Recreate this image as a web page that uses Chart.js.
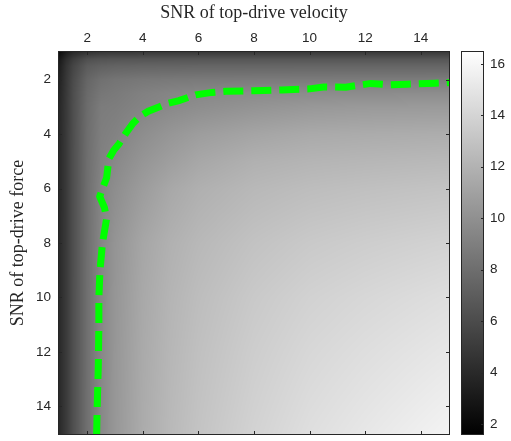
<!DOCTYPE html>
<html>
<head>
<meta charset="utf-8">
<script src="https://cdn.jsdelivr.net/npm/chart.js@4.4.0/dist/chart.umd.js"></script>
<style>
    html, body { margin: 0; padding: 0; background: #ffffff; }
    #wrap { width: 511px; height: 441px; }
</style>
</head>
<body>
<div id="wrap"><canvas id="snrChart" width="511" height="441"></canvas></div>
<script>
// Grid nodes of the SNR map (velocity = columns, force = rows)
const snrVelocity = [1, 1.25, 1.5, 2, 2.5, 3, 4, 5, 6, 8, 10, 12, 15];
const snrForce = [1, 1.25, 1.5, 2, 2.5, 3, 4, 5, 6, 8, 10, 12, 15];

// Map values, one row per force node (read from the grey levels)
const rowForce1 = [2.3, 3.3, 4.0, 4.6, 4.9, 4.95, 4.97, 4.98, 4.98, 4.99, 5.0, 5.0, 5.0];
const rowForce1_25 = [3.0, 4.2, 5.1, 6.2, 6.45, 6.52, 6.56, 6.58, 6.59, 6.6, 6.6, 6.6, 6.6];
const rowForce1_5 = [3.3, 4.6, 5.6, 6.9, 7.22, 7.35, 7.43, 7.45, 7.47, 7.48, 7.49, 7.49, 7.5];
const rowForce2 = [3.55, 4.8, 5.95, 7.5, 8.14, 8.38, 8.58, 8.66, 8.71, 8.75, 8.77, 8.79, 8.8];
const rowForce2_5 = [3.75, 4.9, 6.1, 7.75, 8.5, 8.7, 9.1, 9.35, 9.5, 9.7, 9.74, 9.77, 9.8];
const rowForce3 = [3.85, 4.95, 6.15, 7.88, 8.8, 8.9, 9.3, 9.6, 9.85, 10.2, 10.45, 10.55, 10.6];
const rowForce4 = [3.92, 4.98, 6.18, 7.98, 8.95, 9.2, 9.85, 10.35, 10.75, 11.2, 11.5, 11.6, 11.7];
const rowForce5 = [3.97, 5.0, 6.19, 8.02, 9.1, 9.55, 10.3, 10.85, 11.35, 11.9, 12.13, 12.25, 12.4];
const rowForce6 = [3.98, 5.0, 6.19, 8.05, 9.3, 9.85, 10.7, 11.4, 11.85, 12.35, 12.63, 12.8, 13.0];
const rowForce8 = [3.99, 5.0, 6.19, 8.07, 9.42, 10.24, 11.28, 11.92, 12.35, 12.94, 13.34, 13.59, 13.9];
const rowForce10 = [4.0, 5.0, 6.2, 8.09, 9.46, 10.32, 11.43, 12.13, 12.63, 13.34, 13.84, 14.17, 14.6];
const rowForce12 = [4.0, 5.0, 6.2, 8.09, 9.48, 10.36, 11.51, 12.25, 12.8, 13.59, 14.17, 14.57, 15.1];
const rowForce15 = [4.0, 5.0, 6.2, 8.1, 9.5, 10.4, 11.6, 12.4, 13.0, 13.9, 14.6, 15.1, 15.8];
const heatRows = [rowForce1, rowForce1_25, rowForce1_5, rowForce2, rowForce2_5, rowForce3,
    rowForce4, rowForce5, rowForce6, rowForce8, rowForce10, rowForce12, rowForce15];

// Green dashed contour
const contourVelocity = [2.34, 2.36, 2.40, 2.42, 2.42, 2.46, 2.55, 2.70, 2.62, 2.45, 2.55, 2.70, 2.78,
    2.95, 3.15, 3.39, 3.65, 3.90, 4.2, 4.6, 4.9, 5.3, 5.9, 6.5, 7.0, 8.0, 9.0, 10.0, 10.5, 11.3,
    12.2, 12.9, 13.5, 14.5, 15.05];
const contourForce = [15.05, 14.0, 12.5, 11.0, 10.0, 9.0, 8.0, 7.1, 6.7, 6.3, 6.0, 5.6, 4.9,
    4.6, 4.35, 3.97, 3.6, 3.35, 3.16, 3.0, 2.87, 2.77, 2.56, 2.47, 2.43, 2.41, 2.38, 2.34, 2.27, 2.28,
    2.14, 2.19, 2.17, 2.13, 2.11];

// Ticks and limits
const axisTicks = [2, 4, 6, 8, 10, 12, 14];
const colorbarTicks = [2, 4, 6, 8, 10, 12, 14, 16];
const axisMin = 0.95, axisMax = 15.05;
const colorMin = 1.57, colorMax = 16.5;

const frameColor = '#262626';
const sansFont = "'Liberation Sans', Arial, sans-serif";
const serifFont = "'Liberation Serif', 'Times New Roman', serif";

function grayFor(v) {
    let t = (v - colorMin) / (colorMax - colorMin);
    t = Math.max(0, Math.min(1, t));
    return Math.round(t * 255);
}

// find cell index + fraction of v inside a node list
function locate(nodes, v) {
    const last = nodes.length - 1;
    if (v <= nodes[0]) return [0, 0];
    if (v >= nodes[last]) return [last - 1, 1];
    let i = 0;
    while (nodes[i + 1] < v) i++;
    return [i, (v - nodes[i]) / (nodes[i + 1] - nodes[i])];
}

// Heatmap + colorbar, drawn under the contour line
const heatmapPlugin = {
    id: 'heatmap',
    beforeDatasetsDraw(chart) {
        const { ctx, chartArea: a, scales } = chart;
        const w = Math.round(a.right - a.left);
        const h = Math.round(a.bottom - a.top);
        const off = document.createElement('canvas');
        off.width = w;
        off.height = h;
        const octx = off.getContext('2d');
        const img = octx.createImageData(w, h);
        const colIdx = [];
        for (let i = 0; i < w; i++) {
            colIdx.push(locate(snrVelocity, scales.x.getValueForPixel(a.left + i + 0.5)));
        }
        for (let j = 0; j < h; j++) {
            const [iy, fy] = locate(snrForce, scales.y.getValueForPixel(a.top + j + 0.5));
            const r0 = heatRows[iy], r1 = heatRows[iy + 1];
            for (let i = 0; i < w; i++) {
                const [ix, fx] = colIdx[i];
                const top = r0[ix] * (1 - fx) + r0[ix + 1] * fx;
                const bot = r1[ix] * (1 - fx) + r1[ix + 1] * fx;
                const g = grayFor(top * (1 - fy) + bot * fy);
                const k = (j * w + i) * 4;
                img.data[k] = g;
                img.data[k + 1] = g;
                img.data[k + 2] = g;
                img.data[k + 3] = 255;
            }
        }
        octx.putImageData(img, 0, 0);
        ctx.save();
        ctx.drawImage(off, a.left, a.top, w, h);

        // colorbar
        const cb = scales.cb;
        const x0 = cb.left + 11, x1 = cb.left + 34;
        const yTop = cb.getPixelForValue(colorMax), yBot = cb.getPixelForValue(colorMin);
        const grad = ctx.createLinearGradient(0, yBot, 0, yTop);
        grad.addColorStop(0, '#000000');
        grad.addColorStop(1, '#ffffff');
        ctx.fillStyle = grad;
        ctx.fillRect(x0, yTop, x1 - x0, yBot - yTop);
        ctx.restore();
    },
    afterDatasetsDraw(chart) {
        const { ctx, chartArea: a, scales } = chart;
        const tl = 4;
        ctx.save();
        ctx.strokeStyle = frameColor;
        ctx.lineWidth = 1;
        ctx.beginPath();
        axisTicks.forEach(v => {
            const px = Math.round(scales.x.getPixelForValue(v)) + 0.5;
            ctx.moveTo(px, a.top); ctx.lineTo(px, a.top + tl);
            ctx.moveTo(px, a.bottom); ctx.lineTo(px, a.bottom - tl);
            const py = Math.round(scales.y.getPixelForValue(v)) + 0.5;
            ctx.moveTo(a.left, py); ctx.lineTo(a.left + tl, py);
            ctx.moveTo(a.right, py); ctx.lineTo(a.right - tl, py);
        });
        ctx.stroke();
        ctx.strokeRect(Math.round(a.left) + 0.5, Math.round(a.top) + 0.5,
            Math.round(a.right - a.left) - 1, Math.round(a.bottom - a.top) - 1);

        const cb = scales.cb;
        const x0 = cb.left + 11, x1 = cb.left + 34;
        const yTop = cb.getPixelForValue(colorMax), yBot = cb.getPixelForValue(colorMin);
        ctx.beginPath();
        colorbarTicks.forEach(v => {
            const py = Math.round(cb.getPixelForValue(v)) + 0.5;
            ctx.moveTo(x1, py); ctx.lineTo(x1 - 3, py);
        });
        ctx.stroke();
        ctx.strokeRect(x0 + 0.5, Math.round(yTop) + 0.5, x1 - x0 - 1, Math.round(yBot - yTop) - 1);
        ctx.restore();
    }
};

const setTicks = list => scale => { scale.ticks = list.map(v => ({ value: v })); };

// fixed box sizes, and no extra padding from the edge labels
const fitWidth = w => s => { s.width = w; s.paddingTop = 0; s.paddingBottom = 0; };
const fitHeight = h => s => { s.height = h; s.paddingLeft = 0; s.paddingRight = 0; };

new Chart(document.getElementById('snrChart'), {
    type: 'scatter',
    data: {
        datasets: [{
            data: contourVelocity.map((x, i) => ({ x: x, y: contourForce[i] })),
            showLine: true,
            borderColor: '#00ff00',
            borderWidth: 7,
            borderDash: [20, 8],
            borderCapStyle: 'butt',
            pointRadius: 0,
            tension: 0,
            clip: 0
        }]
    },
    options: {
        responsive: false,
        animation: false,
        events: [],
        layout: { autoPadding: false, padding: { left: 0, right: 0, top: 0, bottom: 6 } },
        plugins: { legend: { display: false }, tooltip: { enabled: false } },
        scales: {
            x: {
                type: 'linear',
                position: 'top',
                min: axisMin,
                max: axisMax,
                afterBuildTicks: setTicks(axisTicks),
                afterFit: fitHeight(51),
                grid: { display: false, drawTicks: false },
                border: { display: false },
                ticks: { color: frameColor, font: { family: sansFont, size: 13.5 }, padding: 5, maxRotation: 0 },
                title: {
                    display: true,
                    text: 'SNR of top-drive velocity',
                    color: frameColor,
                    font: { family: serifFont, size: 18 },
                    padding: { top: 2, bottom: 0 }
                }
            },
            y: {
                type: 'linear',
                position: 'left',
                reverse: true,
                min: axisMin,
                max: axisMax,
                afterBuildTicks: setTicks(axisTicks),
                afterFit: fitWidth(58),
                grid: { display: false, drawTicks: false },
                border: { display: false },
                ticks: { color: frameColor, font: { family: sansFont, size: 13.5 }, padding: 7 },
                title: {
                    display: true,
                    text: 'SNR of top-drive force',
                    color: frameColor,
                    font: { family: serifFont, size: 18 },
                    padding: { top: 7, bottom: 0 }
                }
            },
            cb: {
                type: 'linear',
                position: 'right',
                min: colorMin,
                max: colorMax,
                afterBuildTicks: setTicks(colorbarTicks),
                afterFit: fitWidth(61),
                grid: { display: false, drawTicks: false },
                border: { display: false },
                ticks: { color: frameColor, font: { family: sansFont, size: 13.5 }, padding: 40 }
            }
        }
    },
    plugins: [heatmapPlugin]
});
</script>
</body>
</html>
